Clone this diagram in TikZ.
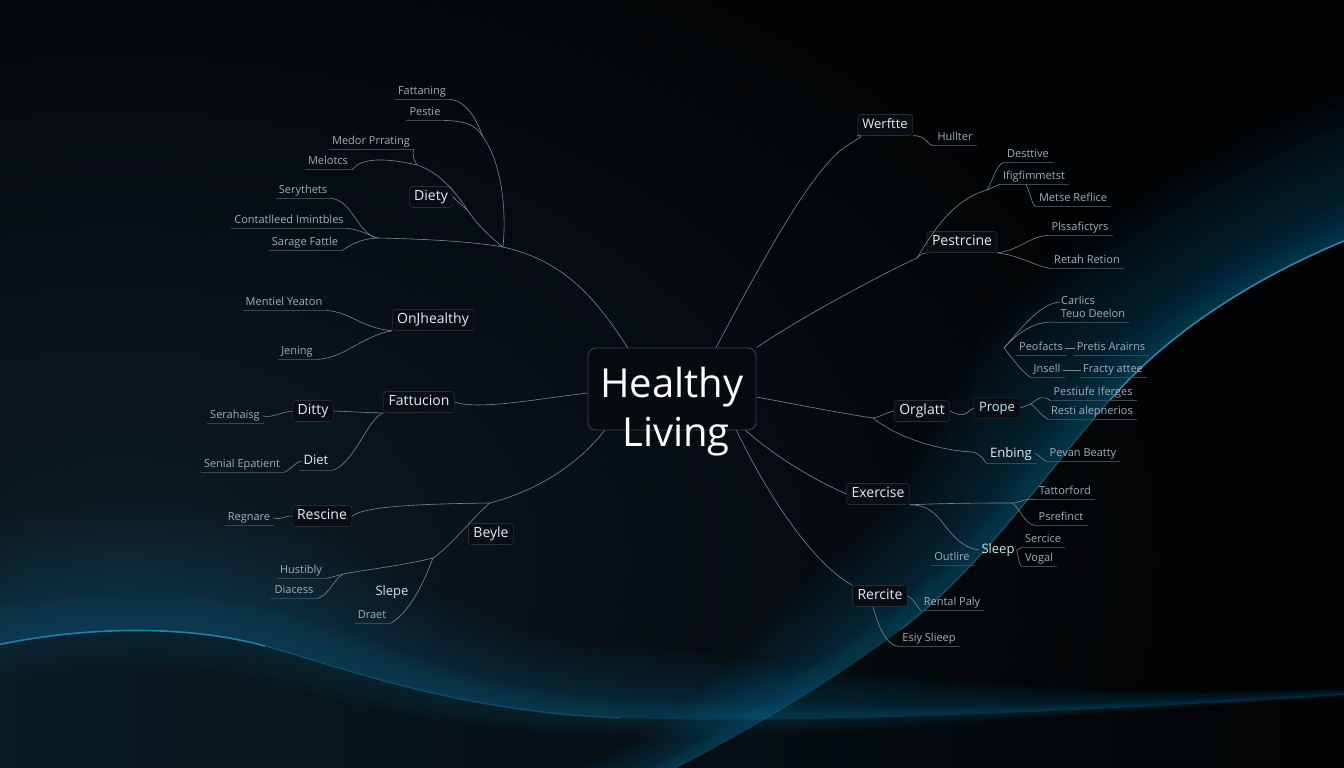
\documentclass[tikz,border=0pt]{standalone}
\usepackage{fontspec}
\setmainfont{Open Sans}
\definecolor{bgk}{HTML}{010203}
\definecolor{hazec}{HTML}{0D1B23}
\definecolor{glowc}{HTML}{11709A}
\definecolor{rimc}{HTML}{2A9CC8}
\definecolor{surfc}{HTML}{0A1B24}
\definecolor{leafc}{HTML}{A3AEB8}
\definecolor{ulc}{HTML}{3A4651}
\definecolor{linec}{HTML}{7E858C}
\definecolor{subc}{HTML}{E6ECF1}
\definecolor{boxf}{HTML}{0A0E13}
\definecolor{boxc}{HTML}{262E37}
\definecolor{cboxf}{HTML}{070A0F}
\definecolor{cboxc}{HTML}{3A4450}
\definecolor{slepec}{HTML}{CFE0F7}
\newcommand\leaffnt{\fontsize{11}{13}\selectfont}
\newcommand\subfnt{\fontsize{14}{16}\selectfont}
\newcommand\smsubfnt{\fontsize{13}{15}\selectfont}
\newcommand\bigfnt{\fontsize{40}{48}\selectfont}
% glow band along the right arc, offset #1 towards the upper left
\newcommand\rband[2]{%
 \fill[glowc, opacity=#2] (1500,190) .. controls (1300,240) and (1180,320) .. (1110,400) .. controls (1040,480) and (980,570) .. (900,630) .. controls (840,675) and (740,740) .. (600,805)
 -- ({600-0.126*(#1)},{805-0.273*(#1)}) .. controls ({740-0.126*(#1)},{740-0.273*(#1)}) and ({840-0.406*(#1)},{675-0.567*(#1)}) .. ({900-0.406*(#1)},{630-0.567*(#1)}) .. controls ({980-0.406*(#1)},{570-0.567*(#1)}) and ({1040-0.75*(#1)},{480-0.66*(#1)}) .. ({1110-0.75*(#1)},{400-0.66*(#1)}) .. controls ({1180-0.75*(#1)},{320-0.66*(#1)}) and ({1300-0.24*(#1)},{240-0.97*(#1)}) .. ({1500-0.24*(#1)},{190-0.97*(#1)}) -- cycle;}
% glow band along the lower-left ridge, offset #1 upwards (negative: downwards)
\newcommand\lband[2]{%
 \fill[glowc, opacity=#2] (-60,660) .. controls (40,628) and (170,620) .. (265,646) .. controls (350,670) and (460,712) .. (620,718) .. controls (760,723) and (1000,718) .. (1420,690)
 -- ({1420-0.004*(#1)},{690-0.05*(#1)}) .. controls ({1000-0.004*(#1)},{718-0.05*(#1)}) and ({760+0.022*(#1)},{723-0.55*(#1)}) .. ({620+0.022*(#1)},{718-0.55*(#1)}) .. controls ({460+0.022*(#1)},{712-0.55*(#1)}) and ({350+0.27*(#1)},{670-0.96*(#1)}) .. ({265+0.27*(#1)},{646-0.96*(#1)}) .. controls ({170+0.27*(#1)},{620-0.96*(#1)}) and ({40-0.30*(#1)},{628-0.95*(#1)}) .. ({-60-0.30*(#1)},{660-0.95*(#1)}) -- cycle;}
\tikzset{
  leaf/.style={text=leafc, font=\leaffnt, inner xsep=1pt, inner ysep=2pt, text height=8pt, text depth=2.5pt},
  sub/.style={draw=boxc, fill=boxf, rounded corners=3pt, text=subc, font=\subfnt, inner xsep=5pt, inner ysep=4pt, line width=0.6pt, text height=10pt, text depth=3pt},
  plain/.style={text=subc, font=\smsubfnt, inner xsep=2pt, inner ysep=2.5pt, text height=9.5pt, text depth=3pt},
  conn/.style={draw=linec, line width=0.6pt},
  ul/.style={draw=ulc, line width=0.6pt},
}
\begin{document}
\begin{tikzpicture}[x=1pt,y=-1pt]
\useasboundingbox (0,0) rectangle (1344,768);
% ---------- background ----------
\fill[bgk] (-5,-5) rectangle (1349,773);
\shade[inner color=hazec, outer color=bgk] (120,560) ellipse [x radius=1100, y radius=720];
% surface below the lower-left ridge
\begin{scope}
  \clip (-60,660) .. controls (40,628) and (170,620) .. (265,646) .. controls (350,670) and (460,712) .. (620,718) .. controls (760,723) and (1000,718) .. (1420,690) -- (1420,780) -- (-60,780) -- cycle;
  \shade[left color=surfc, right color=bgk] (-10,600) rectangle (1360,780);
\end{scope}
\foreach \d in {4,8,...,40} {\lband{\d}{0.035}}
\foreach \d in {50,60,...,130} {\lband{\d}{0.03}}
\foreach \d in {-4,-8,...,-36} {\lband{\d}{0.025}}
\draw[rimc, line width=1.6pt, opacity=0.75] (-60,660) .. controls (40,628) and (170,620) .. (265,646);
\draw[rimc, line width=1.2pt, opacity=0.3] (265,646) .. controls (350,670) and (460,712) .. (620,718);
% right arc
\foreach \d in {4,8,...,40} {\rband{\d}{0.035}}
\foreach \d in {50,60,...,140} {\rband{\d}{0.03}}
\draw[rimc, line width=1.6pt, opacity=0.85] (1500,190) .. controls (1300,240) and (1180,320) .. (1110,400);
\draw[rimc, line width=1.2pt, opacity=0.4] (1110,400) .. controls (1040,480) and (980,570) .. (900,630);
\draw[rimc, line width=1pt, opacity=0.15] (900,630) .. controls (840,675) and (740,740) .. (600,805);

% ---------- centre ----------
\node[draw=cboxc, fill=cboxf, rounded corners=8pt, line width=0.8pt, minimum width=168pt, minimum height=82pt] (C) at (672,389) {};
\node[font=\bigfnt, text=white, anchor=base, inner sep=0pt] (Ct1) at (672,397) {Healthy};
\node[font=\bigfnt, text=white, anchor=base, inner sep=0pt] (Ct2) at (676,446) {Living};

% ---------- sub nodes ----------
\node[sub] (Diety) at (431,197) {Diety};
\node[sub] (OnJ) at (433,320) {OnJhealthy};
\node[sub] (Fatt) at (419,402) {Fattucion};
\node[sub] (Ditty) at (313,411) {Ditty};
\node[sub] (Resc) at (322,516) {Rescine};
\node[sub] (Beyle) at (491,534) {Beyle};
\node[sub, font=\smsubfnt] (Werf) at (885,125) {Werftte};
\node[sub] (Pest) at (962,242) {Pestrcine};
\node[sub] (Org) at (922,411) {Orglatt};
\node[sub, font=\smsubfnt, draw=boxc!70!bgk, text=subc!85!cyan] (Prope) at (997,408) {Prope};
\node[sub] (Exer) at (878,494) {Exercise};
\node[sub] (Rerc) at (880,596) {Rercite};
\node[plain] (Diet) at (316,461) {Diet};
\node[plain, text=slepec] (Slepe) at (392,592) {Slepe};
\node[plain] (Enb) at (1011,454) {Enbing};
\node[plain, text=subc!85!cyan] (Sleep) at (998,550) {Sleep};

% ---------- leaves ----------
\node[leaf] (l1) at (422,92) {Fattaning};
\node[leaf] (l2) at (425,113) {Pestie};
\node[leaf] (l3) at (371,142) {Medor Prrating};
\node[leaf] (l4) at (328,162) {Melotcs};
\node[leaf] (l5) at (303,191) {Serythets};
\node[leaf] (l6) at (289,221) {Contatlleed Imintbles};
\node[leaf] (l7) at (305,243) {Sarage Fattle};
\node[leaf] (l8) at (284,303) {Mentiel Yeaton};
\node[leaf] (l9) at (297,352) {Jening};
\node[leaf] (l10) at (235,416) {Serahaisg};
\node[leaf] (l11) at (242,465) {Senial Epatient};
\node[leaf] (l12) at (249,518) {Regnare};
\node[leaf] (l13) at (301,571) {Hustibly};
\node[leaf] (l14) at (294,591) {Diacess};
\node[leaf] (l15) at (372,616) {Draet};
\node[leaf] (r1) at (955,138) {Hullter};
\node[leaf] (r2) at (1028,155) {Desttive};
\node[leaf] (r3) at (1034,177) {Ifigfimmetst};
\node[leaf] (r4) at (1073,199) {Metse Reflice};
\node[leaf] (r5) at (1080,228) {Plssafictyrs};
\node[leaf] (r6) at (1087,261) {Retah Retion};
\node[leaf] (r7) at (1078,302) {Carlics};
\node[leaf] (r8) at (1093,315) {Teuo Deelon};
\node[leaf] (r9) at (1041,348) {Peofacts};
\node[leaf] (r10) at (1111,348) {Pretis Arairns};
\node[leaf] (r11) at (1047,370) {Jnsell};
\node[leaf] (r12) at (1113,370) {Fracty attee};
\node[leaf] (r13) at (1093,393) {Pestiufe Iferges};
\node[leaf] (r14) at (1092,412) {Resti alepnerios};
\node[leaf] (r15) at (1083,454) {Pevan Beatty};
\node[leaf] (r16) at (1065,492) {Tattorford};
\node[leaf] (r17) at (1061,518) {Psrefinct};
\node[leaf] (r18) at (1043,540) {Sercice};
\node[leaf] (r19) at (1039,559) {Vogal};
\node[leaf] (r20) at (952,558) {Outlire};
\node[leaf] (r21) at (952,603) {Rental Paly};
\node[leaf] (r22) at (929,639) {Esiy Slieep};

\foreach \n in {l1,l2,l3,l4,l5,l6,l7,l8,l9,l10,l11,l12,l13,l14,l15,r1,r2,r3,r4,r5,r6,r8,r9,r10,r11,r12,r13,r14,r15,r16,r17,r18,r19,r20,r21,r22,Diet,Enb}
  \draw[ul] ([xshift=-2pt]\n.south west) -- ([xshift=3pt]\n.south east);

% ---------- hubs ----------
\coordinate (hA) at (503,247);
\coordinate (hB) at (483,137);
\coordinate (hC) at (417,165);
\coordinate (hD) at (468,211);
\coordinate (hE) at (377,238);
\coordinate (hG) at (490,503);
\coordinate (hH) at (433,558);
\coordinate (hI) at (343,574);
\coordinate (hJ) at (987,190);
\coordinate (hK) at (873,418);
\coordinate (hL) at (1031,404);
\coordinate (hM) at (1004,348);
\coordinate (hN) at (1012,503);
\coordinate (hP) at (917,258);

% ---------- connectors: top-left ----------
\draw[conn] (C.137) .. controls (592,292) and (560,260) .. (hA);
\draw[conn] (hA) .. controls (507,205) and (500,160) .. (hB);
\draw[conn] (hB) .. controls (476,118) and (466,101) .. ([xshift=3pt]l1.south east);
\draw[conn] (hB) .. controls (478,128) and (470,121) .. ([xshift=3pt]l2.south east);
\draw[conn] ([xshift=3pt]l3.south east) .. controls (412,151) and (413,160) .. (hC);
\draw[conn] ([xshift=3pt]l4.south east) .. controls (360,160) and (378,156) .. (hC);
\draw[conn] (hC) .. controls (440,172) and (458,195) .. (hD) .. controls (480,228) and (494,240) .. (hA);
\draw[conn] (Diety.east) .. controls (458,202) and (463,206) .. (hD);
\draw[conn] ([xshift=3pt]l5.south east) .. controls (352,200) and (358,234) .. (hE);
\draw[conn] ([xshift=3pt]l6.south east) .. controls (362,230) and (370,236) .. (hE);
\draw[conn] ([xshift=3pt]l7.south east) .. controls (353,243) and (362,239) .. (hE);
\draw[conn] (hE) .. controls (430,239) and (475,242) .. (hA);
% left middle
\draw[conn] ([xshift=3pt]l8.south east) .. controls (350,312) and (362,328) .. (OnJ.south west);
\draw[conn] ([xshift=3pt]l9.south east) .. controls (345,358) and (362,336) .. (OnJ.south west);
\draw[conn] (Fatt.east) .. controls (478,410) and (530,400) .. ([yshift=-4pt]C.west);
\draw[conn] (Ditty.east) .. controls (360,412) and (372,413) .. (Fatt.south west);
\draw[conn] ([xshift=3pt]Diet.south east) .. controls (355,462) and (368,418) .. (Fatt.south west);
\draw[conn] ([xshift=2pt]l10.east) .. controls (272,418) and (278,413) .. (Ditty.west);
\draw[conn] ([xshift=3pt]l11.south east) .. controls (293,468) and (295,462) .. (Diet.west);
% left bottom
\draw[conn] ([xshift=17pt]C.south west) .. controls (580,462) and (540,490) .. (hG);
\draw[conn] (Resc.east) .. controls (363,508) and (400,504) .. (hG);
\draw[conn] (hG) .. controls (472,518) and (452,545) .. (hH);
\draw[conn] (hH) .. controls (400,566) and (370,569) .. (hI);
\draw[conn] (hI) .. controls (335,576) and (333,577) .. ([xshift=3pt]l13.south east);
\draw[conn] (hI) .. controls (333,580) and (330,594) .. ([xshift=3pt]l14.south east);
\draw[conn] (hH) .. controls (424,582) and (410,612) .. ([xshift=3pt]l15.south east);
\draw[conn] ([xshift=2pt]l12.east) .. controls (282,520) and (284,516) .. (Resc.west);
% right top
\draw[conn] ([xshift=44pt]C.north) .. controls (768,250) and (815,165) .. (848,145) .. controls (858,138) and (866,135) .. (Werf.south west);
\draw[conn] (Werf.south east) .. controls (928,135) and (926,146) .. ([xshift=-2pt]r1.south west);
\draw[conn] (C.north east) .. controls (800,318) and (880,275) .. (hP);
\draw[conn] (hP) .. controls (921,254) and (924,253) .. (Pest.south west);
\draw[conn] (hP) .. controls (933,232) and (952,200) .. (hJ);
\draw[conn] (hJ) .. controls (994,178) and (996,165) .. ([xshift=-2pt]r2.south west);
\draw[conn] (hJ) .. controls (994,187) and (998,185) .. ([xshift=-2pt]r3.south west);
\draw[conn] ([xshift=-8pt]r3.south) .. controls (1030,192) and (1032,206) .. ([xshift=-2pt]r4.south west);
\draw[conn] (Pest.south east) .. controls (1020,250) and (1030,236) .. ([xshift=-2pt]r5.south west);
\draw[conn] (Pest.south east) .. controls (1022,256) and (1034,266) .. ([xshift=-2pt]r6.south west);
% right middle
\draw[conn] ([yshift=-8pt]C.east) .. controls (800,405) and (845,414) .. (hK);
\draw[conn] (hK) .. controls (880,417) and (885,413) .. (Org.west);
\draw[conn] (hK) .. controls (895,436) and (935,450) .. (972,452) .. controls (980,453) and (984,460) .. ([xshift=-2pt]Enb.south west);
\draw[conn] (Org.east) .. controls (966,420) and (968,410) .. (Prope.west);
\draw[conn] (Prope.east) -- (hL);
\draw[conn] (hL) .. controls (1038,398) and (1043,395) .. ([xshift=-2pt]r13.south west);
\draw[conn] (hL) .. controls (1036,408) and (1040,414) .. ([xshift=-2pt]r14.south west);
\draw[conn] (hM) .. controls (1020,330) and (1040,303) .. (r7.west);
\draw[conn] (hM) .. controls (1022,328) and (1040,320) .. ([xshift=-2pt]r8.south west);
\draw[conn] (hM) .. controls (1012,358) and (1022,372) .. ([xshift=-2pt]r11.south west);
\draw[conn] ([xshift=1pt]r9.east) -- ([xshift=-1pt]r10.west);
\draw[conn] ([xshift=1pt]r11.east) -- ([xshift=-1pt]r12.west);
\draw[conn] (Enb.east) .. controls (1036,452) and (1040,458) .. ([xshift=-2pt]r15.south west);
% right bottom
\draw[conn] ([xshift=-11pt]C.south east) .. controls (780,460) and (815,480) .. (Exer.west);
\draw[conn] ([xshift=-20pt]C.south east) .. controls (770,500) and (815,565) .. (Rerc.north west);
\draw[conn] (Exer.south east) .. controls (950,503) and (990,503) .. (hN);
\draw[conn] (hN) .. controls (1020,503) and (1024,498) .. ([xshift=-2pt]r16.south west);
\draw[conn] (hN) .. controls (1020,508) and (1024,524) .. ([xshift=-2pt]r17.south west);
\draw[conn] (Exer.south east) .. controls (935,505) and (940,522) .. (952,534) .. controls (962,545) and (970,549) .. (Sleep.west);
\draw[conn] (Sleep.east) -- ([xshift=-2pt]r18.south west);
\draw[conn] (Sleep.east) .. controls (1018,556) and (1019,565) .. ([xshift=-2pt]r19.south west);
\draw[conn] (Rerc.east) .. controls (915,600) and (917,607) .. ([xshift=-2pt]r21.south west);
\draw[conn] ([xshift=-7pt]Rerc.south) .. controls (878,625) and (886,646) .. ([xshift=-2pt]r22.south west);
\end{tikzpicture}
\end{document}
